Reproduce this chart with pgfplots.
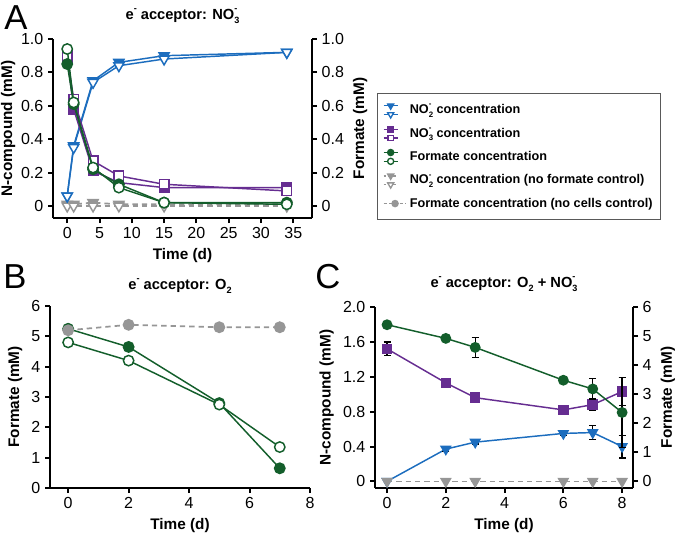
\documentclass[border=0pt]{standalone}
\usepackage{pgfplots}
\pgfplotsset{compat=1.18}
\usepackage{fontspec}
\setmainfont{Liberation Sans}
\definecolor{cblue}{HTML}{1C6DBE}
\definecolor{cpurple}{HTML}{662D91}
\definecolor{cgreen}{HTML}{135E2B}
\definecolor{cgray}{HTML}{969696}
\makeatletter
\newcommand\ssz{\fontsize{\fpeval{0.62*\f@size}}{0}\selectfont}
\makeatother
\newcommand\ion[2]{\makebox[0pt][l]{\raisebox{0.55em}{\ssz #2}}\raisebox{-0.28em}{\ssz #1}}
\newcommand\msup[1]{\raisebox{0.55em}{\ssz #1}}
\newcommand\msub[1]{\raisebox{-0.28em}{\ssz #1}}
\pgfplotsset{
  gp/.style={
    scale only axis,
    anchor=south west,
    axis line style={line width=1.5pt,-},
    major tick style={line width=1.5pt, black},
    tick align=outside,
    major tick length=3.75pt,
    tick label style={font=\fontsize{12}{14}\selectfont},
    label style={font=\bfseries\fontsize{11.5}{13}\selectfont},
    title style={font=\bfseries\fontsize{11}{13}\selectfont},
    /pgf/number format/assume math mode=true,
    clip=false,
  },
  sl/.style={line width=1.1pt, color=#1},
  ftri/.style={mark=triangle*, mark size=4.4pt, mark options={solid, rotate=180, fill=#1, line width=1.1pt}},
  otri/.style={mark=triangle*, mark size=4.4pt, mark options={solid, rotate=180, fill=white, line width=1.1pt}},
  fsq/.style={mark=square*, mark size=3.6pt, mark options={solid, fill=#1, line width=1.1pt}},
  osq/.style={mark=square*, mark size=3.6pt, mark options={solid, fill=white, line width=1.1pt}},
  fci/.style={mark=*, mark size=3.9pt, mark options={solid, fill=#1, line width=1.1pt}},
  oci/.style={mark=*, mark size=3.9pt, mark options={solid, fill=white, line width=1.1pt}},
  gdash/.style={color=cgray, line width=1.3pt, dash pattern=on 4pt off 3pt},
  eb/.style={error bars/.cd, y dir=both, y explicit, error bar style={line width=1pt, black, solid}, error mark options={rotate=90, mark size=2.6pt, line width=1pt, black}},
}
\newcommand\pairimg[3]{\addlegendimage{legend image code/.code={
  \draw[#1, mark repeat=2, mark phase=2, #2] plot coordinates {(0pt,3.3pt)(5.25pt,3.3pt)(10.5pt,3.3pt)};
  \draw[#1, mark repeat=2, mark phase=2, #3] plot coordinates {(0pt,-3.3pt)(5.25pt,-3.3pt)(10.5pt,-3.3pt)};
}}}
\begin{document}
\begin{tikzpicture}
\path[use as bounding box] (0,0) rectangle (507.75pt,-400.5pt);
\node[font=\fontsize{26}{28}\selectfont] at (12pt,-13.5pt) {A};
\node[font=\fontsize{26}{28}\selectfont] at (11.25pt,-207.75pt) {B};
\node[font=\fontsize{26}{28}\selectfont] at (246pt,-207.75pt) {C};

% ---------- Panel A, left axis ----------
\begin{axis}[gp, at={(39.75pt,-163.5pt)}, width=194.25pt, height=134.25pt,
  xmin=-2.2, xmax=37.9, ymin=-0.072, ymax=1.0,
  axis x line*=bottom, axis y line*=left,
  xtick={0,5,...,35}, ytick={0,0.2,0.4,0.6,0.8,1.0},
  yticklabels={0,0.2,0.4,0.6,0.8,1.0},
  xlabel={Time (d)}, ylabel={N-compound (mM)}, ylabel shift=-2.5pt,
  title={e\msup{-} acceptor: NO\ion{3}{-}},
  title style={yshift=2pt},
]
\addplot[gdash, ftri=cgray] coordinates {(0,0.01)(1,0.01)(4,0.02)(8,0.01)(15,0.01)(34,0.01)};
\addplot[gdash, otri=cgray] coordinates {(0,0.0)(1,0.0)(4,0.0)(8,0.0)(15,0.0)(34,0.0)};
\addplot[sl=cblue, ftri=cblue] coordinates {(0,0.06)(1,0.36)(4,0.75)(8,0.86)(15,0.90)(34,0.92)};
\addplot[sl=cblue, otri=cblue] coordinates {(0,0.06)(1,0.35)(4,0.74)(8,0.84)(15,0.88)(34,0.92)};
\addplot[sl=cpurple, fsq=cpurple] coordinates {(0,0.90)(1,0.58)(4,0.21)(8,0.14)(15,0.11)(34,0.11)};
\addplot[sl=cpurple, osq=cpurple] coordinates {(0,0.89)(1,0.64)(4,0.27)(8,0.18)(15,0.13)(34,0.09)};
\end{axis}

% ---------- Panel A, right axis ----------
\begin{axis}[gp, at={(39.75pt,-163.5pt)}, width=194.25pt, height=134.25pt,
  xmin=-2.2, xmax=37.9, ymin=-0.072, ymax=1.0,
  axis x line=none, axis y line*=right,
  ytick={0,0.2,0.4,0.6,0.8,1.0},
  yticklabels={0,0.2,0.4,0.6,0.8,1.0},
  ylabel={Formate (mM)},
  legend style={at={(axis description cs:1.251,0.698)}, anchor=north west,
    draw=gray!70!black, line width=1pt, font=\bfseries\fontsize{9.5}{11}\selectfont,
    row sep=5pt, inner xsep=4pt, inner ysep=6pt},
  legend cell align=left,
]
\addplot[sl=cgreen, fci=cgreen, forget plot] coordinates {(0,0.85)(1,0.61)(4,0.22)(8,0.13)(15,0.02)(34,0.02)};
\addplot[sl=cgreen, oci=cgreen, forget plot] coordinates {(0,0.94)(1,0.62)(4,0.23)(8,0.11)(15,0.02)(34,0.01)};
\pairimg{cblue, line width=1pt}{mark=triangle*, mark options={solid, rotate=180, fill=cblue}, mark size=2.6pt}{mark=triangle*, mark options={solid, rotate=180, fill=white}, mark size=2.6pt}
\addlegendentry{NO\ion{2}{-} concentration}
\pairimg{cpurple, line width=1pt}{mark=square*, mark options={solid, fill=cpurple}, mark size=2.1pt}{mark=square*, mark options={solid, fill=white}, mark size=2.1pt}
\addlegendentry{NO\ion{3}{-} concentration}
\pairimg{cgreen, line width=1pt}{mark=*, mark options={solid, fill=cgreen}, mark size=2.3pt}{mark=*, mark options={solid, fill=white}, mark size=2.3pt}
\addlegendentry{Formate concentration}
\pairimg{cgray, line width=1pt, dash pattern=on 2pt off 1.5pt}{mark=triangle*, mark options={solid, rotate=180, fill=cgray}, mark size=2.6pt}{mark=triangle*, mark options={solid, rotate=180, fill=white}, mark size=2.6pt}
\addlegendentry{NO\ion{2}{-} concentration (no formate control)}
\addlegendimage{cgray, line width=1pt, dash pattern=on 2.5pt off 1.5pt, mark=*, mark options={solid, fill=cgray}, mark size=2.3pt}
\addlegendentry{Formate concentration (no cells control)}
\end{axis}

% ---------- Panel B ----------
\begin{axis}[gp, at={(37.5pt,-366pt)}, width=195pt, height=136.5pt,
  xmin=-0.6, xmax=8, ymin=0, ymax=6,
  axis x line*=bottom, axis y line*=left,
  xtick={0,2,...,8}, ytick={0,1,...,6},
  xlabel={Time (d)}, ylabel={Formate (mM)},
  title={e\msup{-} acceptor: O\msub{2}},
]
\addplot[sl=cgreen, fci=cgreen] coordinates {(0,5.25)(2,4.65)(5,2.8)(7,0.65)};
\addplot[sl=cgreen, oci=cgreen] coordinates {(0,4.8)(2,4.2)(5,2.75)(7,1.35)};
\addplot[gdash, fci=cgray] coordinates {(0,5.2)(2,5.38)(5,5.3)(7,5.3)};
\end{axis}

% ---------- Panel C, left axis ----------
\begin{axis}[gp, at={(281.25pt,-366pt)}, width=193.5pt, height=135.75pt,
  xmin=-0.41, xmax=8.37, ymin=-0.076, ymax=2.0,
  axis x line*=bottom, axis y line*=left,
  xtick={0,2,...,8}, ytick={0,0.4,0.8,1.2,1.6,2.0},
  yticklabels={0,0.4,0.8,1.2,1.6,2.0},
  xlabel={Time (d)}, ylabel={N-compound (mM)},
  title={e\msup{-} acceptor: O\msub{2} + NO\ion{3}{-}},
  title style={yshift=2pt},
]
\addplot[sl=cblue, ftri=cblue, mark size=4pt, eb] coordinates {(0,0.0) +- (0,0) (2,0.37) +- (0,0.03) (3,0.45) +- (0,0.02) (6,0.55) +- (0,0.02) (7,0.56) +- (0,0.08) (8,0.40) +- (0,0.13)};
\addplot[sl=cpurple, fsq=cpurple, mark size=3.4pt, eb] coordinates {(0,1.52) +- (0,0.08) (2,1.13) +- (0,0.05) (3,0.96) +- (0,0.05) (6,0.82) +- (0,0.03) (7,0.88) +- (0,0.07) (8,1.03) +- (0,0.16)};
\addplot[gdash, ftri=cgray, mark size=4pt] coordinates {(0,0)(2,0)(3,0)(6,0)(7,0)(8,0)};
\end{axis}

% ---------- Panel C, right axis ----------
\begin{axis}[gp, at={(281.25pt,-366pt)}, width=193.5pt, height=135.75pt,
  xmin=-0.41, xmax=8.37, ymin=-0.229, ymax=6,
  axis x line=none, axis y line*=right,
  ytick={0,1,...,6},
  ylabel={Formate (mM)},
]
\addplot[sl=cgreen, fci=cgreen, mark size=3.5pt, eb] coordinates {(0,5.39) +- (0,0) (2,4.92) +- (0,0.05) (3,4.61) +- (0,0.34) (6,3.48) +- (0,0.05) (7,3.18) +- (0,0.37) (8,2.37) +- (0,1.2)};
\end{axis}
\end{tikzpicture}
\end{document}
